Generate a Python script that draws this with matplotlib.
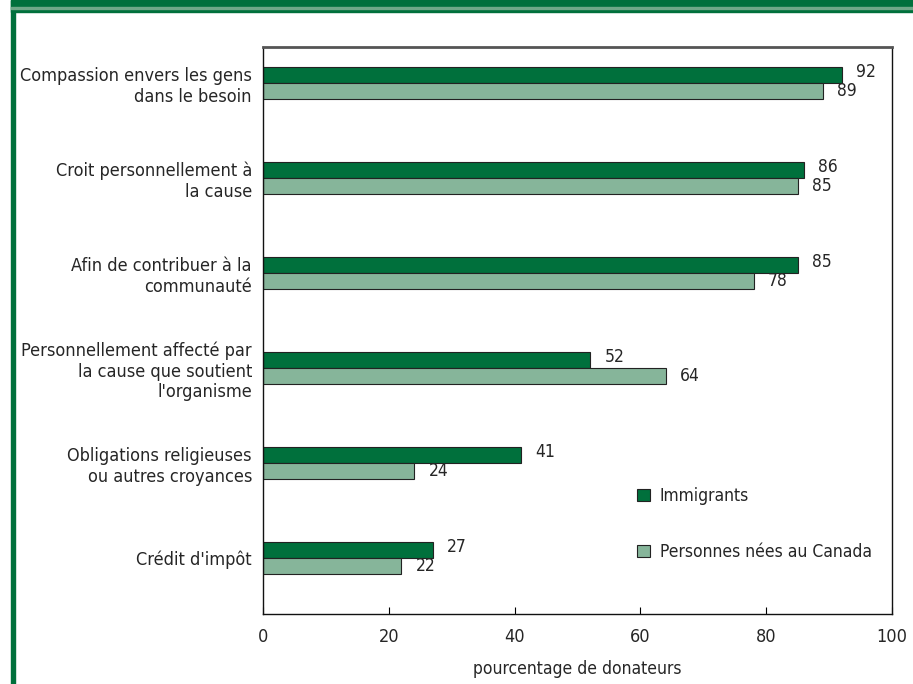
import matplotlib
matplotlib.use('Agg')
import matplotlib.pyplot as plt
import numpy as np
from matplotlib.patches import Rectangle

plt.rcParams['font.family'] = ['DejaVu Sans']
plt.rcParams['font.stretch'] = 'condensed'

categories = [
    "Compassion envers les gens\ndans le besoin",
    "Croit personnellement à\nla cause",
    "Afin de contribuer à la\ncommunauté",
    "Personnellement affecté par\nla cause que soutient\nl'organisme",
    "Obligations religieuses\nou autres croyances",
    "Crédit d'impôt",
]
immigrants = [92, 86, 85, 52, 41, 27]
canadiens = [89, 85, 78, 64, 24, 22]
series_names = ["Immigrants", "Personnes nées au Canada"]
xticks = [0, 20, 40, 60, 80, 100]

dark = '#00703c'
light = '#86b59a'
ink = '#262626'

fig = plt.figure(figsize=(9.13, 6.84), dpi=100)
ax = fig.add_axes([263 / 913, 1 - 614 / 684, (892 - 263) / 913, (614 - 47) / 684])

y = np.arange(len(categories))
h = 0.168
b1 = ax.barh(y - h / 2, immigrants, height=h, color=dark, edgecolor='#222222', linewidth=0.8, label=series_names[0])
b2 = ax.barh(y + h / 2, canadiens, height=h, color=light, edgecolor='#222222', linewidth=0.8, label=series_names[1])

# value labels; the upper one of each pair sits a little high
for bars, vals, dy in ((b1, immigrants, -0.03), (b2, canadiens, 0.0)):
    for bar, v in zip(bars, vals):
        ax.text(v + 2.3, bar.get_y() + bar.get_height() / 2 + dy, str(v),
                va='center', ha='left', fontsize=12.5, color=ink)

ax.set_xlim(0, 100)
# rows are 95 px apart, first one 36 px under the top of the frame
ax.set_ylim(5.59, -0.38)
ax.set_yticks(y)
ax.set_yticklabels(categories, fontsize=13, color=ink, linespacing=1.2)
ax.set_xticks(xticks)
ax.set_xticklabels([str(t) for t in xticks], fontsize=13, color=ink)
ax.tick_params(axis='y', length=0, pad=8)
ax.tick_params(axis='x', direction='in', length=5, pad=10, width=0.8)
ax.set_xlabel("pourcentage de donateurs", fontsize=12.5, color=ink, labelpad=10)

for s in ('left', 'bottom', 'right'):
    ax.spines[s].set_color('#111111')
    ax.spines[s].set_linewidth(1.0)
ax.spines['top'].set_color('#555555')
ax.spines['top'].set_linewidth(2.0)

leg = ax.legend(loc='upper left', bbox_to_anchor=(637 / 913, 1 - 487 / 684),
                bbox_transform=fig.transFigure, frameon=False, fontsize=12.5,
                handlelength=0.75, handleheight=0.75, labelspacing=2.2,
                borderpad=0, borderaxespad=0, handletextpad=0.55)
for t in leg.get_texts():
    t.set_color(ink)

# green frame: band across the top and rule down the left side
W, H = 913, 684
fig.patches.append(Rectangle((11 / W, 1 - 12 / H), 1, 12 / H, transform=fig.transFigure,
                             color=dark, zorder=0))
fig.patches.append(Rectangle((11 / W, 1 - 8.5 / H), 1, 1 / H, transform=fig.transFigure,
                             color='#6fa888', zorder=1))
fig.patches.append(Rectangle((11 / W, 0), 4 / W, 1, transform=fig.transFigure,
                             color=dark, zorder=0))

fig.savefig('out.png', dpi=100)
